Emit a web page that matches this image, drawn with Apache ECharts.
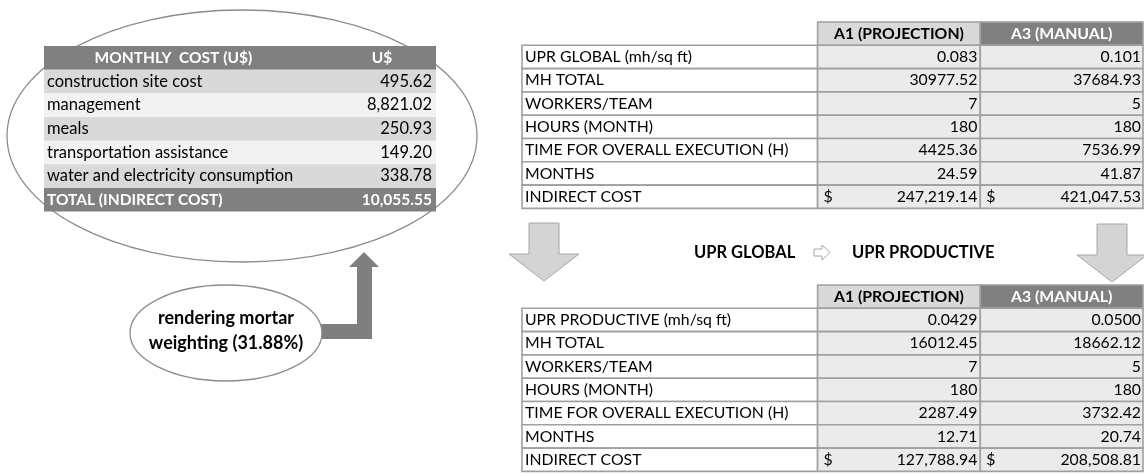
<!DOCTYPE html>
<html>
<head>
<meta charset="utf-8">
<script src="https://cdn.jsdelivr.net/npm/echarts@6/dist/echarts.min.js"></script>
<style>
html, body { margin: 0; padding: 0; background: #fff; }
#chart { width: 1144px; height: 474px; }
</style>
</head>
<body>
<div id="chart"></div>
<script>
// monthly cost table
var costHeader = ['MONTHLY  COST (U$)', 'U$'];
var costItems = ['construction site cost', 'management', 'meals', 'transportation assistance', 'water and electricity consumption'];
var costValues = [495.62, 8821.02, 250.93, 149.20, 338.78];
var costTotalLabel = 'TOTAL (INDIRECT COST)';
var costTotal = 10055.55;

// comparison tables
var colNames = ['A1 (PROJECTION)', 'A3 (MANUAL)'];
var globalRows = ['UPR GLOBAL (mh/sq ft)', 'MH TOTAL', 'WORKERS/TEAM', 'HOURS (MONTH)', 'TIME FOR OVERALL EXECUTION (H)', 'MONTHS', 'INDIRECT COST'];
var globalA1 = [0.083, 30977.52, 7, 180, 4425.36, 24.59, 247219.14];
var globalA3 = [0.101, 37684.93, 5, 180, 7536.99, 41.87, 421047.53];
var globalDec = [3, 2, 0, 0, 2, 2, 2];

var prodRows = ['UPR PRODUCTIVE (mh/sq ft)', 'MH TOTAL', 'WORKERS/TEAM', 'HOURS (MONTH)', 'TIME FOR OVERALL EXECUTION (H)', 'MONTHS', 'INDIRECT COST'];
var prodA1 = [0.0429, 16012.45, 7, 180, 2287.49, 12.71, 127788.94];
var prodA3 = [0.0500, 18662.12, 5, 180, 3732.42, 20.74, 208508.81];
var prodDec = [4, 2, 0, 0, 2, 2, 2];

var bubbleText = ['rendering mortar', 'weighting (31.88%)'];
var flowText = ['UPR GLOBAL', 'UPR PRODUCTIVE'];

var FONT = 'Lato, "Open Sans", sans-serif';

function fmt(v, dec, group) {
	if (group) return v.toLocaleString('en-US', { minimumFractionDigits: dec, maximumFractionDigits: dec });
	return v.toFixed(dec);
}

function txt(s, x, y, align, bold, size, color) {
	return {
		type: 'text',
		style: {
			text: s, x: x, y: y, align: align, verticalAlign: 'middle',
			font: (bold ? 'bold ' : '') + size + 'px ' + FONT, fill: color || '#000'
		}
	};
}

// left table: header, 5 items, total
var costLabels = [costHeader[0]].concat(costItems, [costTotalLabel]);
var costShown = [costHeader[1]].concat(costValues.map(function (v) { return fmt(v, 2, true); }), [fmt(costTotal, 2, true)]);

function renderCost(params, api) {
	var i = api.value(1);
	var cs = params.coordSys;
	var c = api.coord([0, i]);
	var h = api.size([0, 1])[1];
	var top = c[1] - h / 2;
	var last = costLabels.length - 1;
	var fill = (i === 0 || i === last) ? '#808080' : (i % 2 === 1 ? '#d9d9d9' : '#f2f2f2');
	var kids = [{ type: 'rect', shape: { x: cs.x, y: top, width: cs.width, height: h }, style: { fill: fill } }];
	if (i === 0) {
		kids.push(txt(costLabels[i], cs.x + cs.width * 0.33, c[1], 'center', true, 15.5, '#fff'));
		kids.push(txt(costShown[i], cs.x + cs.width * 0.862, c[1], 'center', true, 15.5, '#fff'));
	} else if (i === last) {
		kids.push(txt(costLabels[i], cs.x + 3, c[1], 'left', true, 15.5, '#fff'));
		kids.push(txt(costShown[i], cs.x + cs.width - 4, c[1], 'right', true, 15.5, '#fff'));
	} else {
		kids.push(txt(costLabels[i], cs.x + 3, c[1], 'left', false, 16.5));
		kids.push(txt(costShown[i], cs.x + cs.width - 4, c[1], 'right', false, 16.5));
	}
	return { type: 'group', children: kids };
}

function makeCompare(rows, a1, a3, dec) {
	var n = rows.length;
	var fs = 15.8;
	return function (params, api) {
		var i = api.value(1);
		var cs = params.coordSys;
		var c = api.coord([0, i]);
		var h = api.size([0, 1])[1];
		var top = c[1] - h / 2;
		var x1 = cs.x + cs.width * 0.476;
		var x2 = cs.x + cs.width * 0.738;
		var x3 = cs.x + cs.width;
		var line = '#a0a0a0';
		var kids = [];
		if (i === 0) {
			kids.push({ type: 'rect', shape: { x: x1, y: top, width: x2 - x1, height: h }, style: { fill: '#d9d9d9', stroke: line, lineWidth: 1.6 } });
			kids.push({ type: 'rect', shape: { x: x2, y: top, width: x3 - x2, height: h }, style: { fill: '#808080', stroke: line, lineWidth: 1.6 } });
			kids.push(txt(colNames[0], (x1 + x2) / 2, c[1], 'center', true, fs));
			kids.push(txt(colNames[1], (x2 + x3) / 2, c[1], 'center', true, fs, '#fff'));
		} else {
			var k = i - 1;
			var money = k === n - 1;
			kids.push({ type: 'rect', shape: { x: cs.x, y: top, width: x1 - cs.x, height: h }, style: { fill: '#fff', stroke: line, lineWidth: 1.6 } });
			kids.push({ type: 'rect', shape: { x: x1, y: top, width: x2 - x1, height: h }, style: { fill: '#ebebeb', stroke: line, lineWidth: 1.6 } });
			kids.push({ type: 'rect', shape: { x: x2, y: top, width: x3 - x2, height: h }, style: { fill: '#ebebeb', stroke: line, lineWidth: 1.6 } });
			kids.push(txt(rows[k], cs.x + 3, c[1], 'left', false, fs));
			kids.push(txt(fmt(a1[k], dec[k], money), x2 - 3, c[1], 'right', false, fs));
			kids.push(txt(fmt(a3[k], dec[k], money), x3 - 2, c[1], 'right', false, fs));
			if (money) {
				kids.push(txt('$', x1 + 6, c[1], 'left', false, fs));
				kids.push(txt('$', x2 + 6, c[1], 'left', false, fs));
			}
		}
		return { type: 'group', children: kids };
	};
}

function idx(n) {
	var d = [];
	for (var i = 0; i < n; i++) d.push([0, i]);
	return d;
}

function downArrow(cx, top) {
	return {
		type: 'polygon', z: 1,
		shape: { points: [[cx - 15, top], [cx + 15, top], [cx + 15, top + 31], [cx + 35, top + 31], [cx, top + 58], [cx - 35, top + 31], [cx - 15, top + 31]] },
		style: { fill: '#d4d4d4', stroke: '#a6a6a6', lineWidth: 1 }
	};
}

var option = {
	animation: false,
	grid: [
		{ left: 44, top: 46, width: 392, height: 165.6 },
		{ left: 522, top: 22, width: 621, height: 186.4 },
		{ left: 522, top: 285, width: 621, height: 186.4 }
	],
	xAxis: [0, 1, 2].map(function (g) {
		return { type: 'value', gridIndex: g, min: 0, max: 1, show: false };
	}),
	yAxis: [
		{ type: 'category', gridIndex: 0, inverse: true, show: false, data: costLabels },
		{ type: 'category', gridIndex: 1, inverse: true, show: false, data: [''].concat(globalRows) },
		{ type: 'category', gridIndex: 2, inverse: true, show: false, data: [''].concat(prodRows) }
	],
	graphic: [
		{ type: 'ellipse', z: 0, shape: { cx: 242, cy: 136, rx: 235, ry: 126 }, style: { fill: 'none', stroke: '#8c8c8c', lineWidth: 1.3 } },
		{
			type: 'polygon', z: 1,
			shape: { points: [[300, 324], [357, 324], [357, 267], [349, 267], [364, 252], [379, 267], [372, 267], [372, 339], [300, 339]] },
			style: { fill: '#7f7f7f' }
		},
		{ type: 'ellipse', z: 2, shape: { cx: 226, cy: 333, rx: 96, ry: 48 }, style: { fill: '#fff', stroke: '#8c8c8c', lineWidth: 1.3 } },
		{ type: 'text', z: 3, style: { text: bubbleText[0], x: 226, y: 318, align: 'center', verticalAlign: 'middle', font: 'bold 18px ' + FONT, fill: '#000' } },
		{ type: 'text', z: 3, style: { text: bubbleText[1], x: 226, y: 343, align: 'center', verticalAlign: 'middle', font: 'bold 18px ' + FONT, fill: '#000' } },
		downArrow(544, 223),
		downArrow(1112, 224),
		{ type: 'text', z: 3, style: { text: flowText[0], x: 694, y: 253, align: 'left', verticalAlign: 'middle', font: 'bold 16.5px ' + FONT, fill: '#000' } },
		{
			type: 'polygon', z: 1,
			shape: { points: [[814, 249], [822, 249], [822, 245], [830, 252.5], [822, 260], [822, 256], [814, 256]] },
			style: { fill: '#fff', stroke: '#a6a6a6', lineWidth: 1 }
		},
		{ type: 'text', z: 3, style: { text: flowText[1], x: 852, y: 253, align: 'left', verticalAlign: 'middle', font: 'bold 16.5px ' + FONT, fill: '#000' } }
	],
	series: [
		{ type: 'custom', xAxisIndex: 0, yAxisIndex: 0, z: 5, renderItem: renderCost, data: idx(costLabels.length) },
		{ type: 'custom', xAxisIndex: 1, yAxisIndex: 1, z: 5, renderItem: makeCompare(globalRows, globalA1, globalA3, globalDec), data: idx(globalRows.length + 1) },
		{ type: 'custom', xAxisIndex: 2, yAxisIndex: 2, z: 5, renderItem: makeCompare(prodRows, prodA1, prodA3, prodDec), data: idx(prodRows.length + 1) }
	]
};

var chart = echarts.init(document.getElementById('chart'));
chart.setOption(option);
</script>
</body>
</html>
